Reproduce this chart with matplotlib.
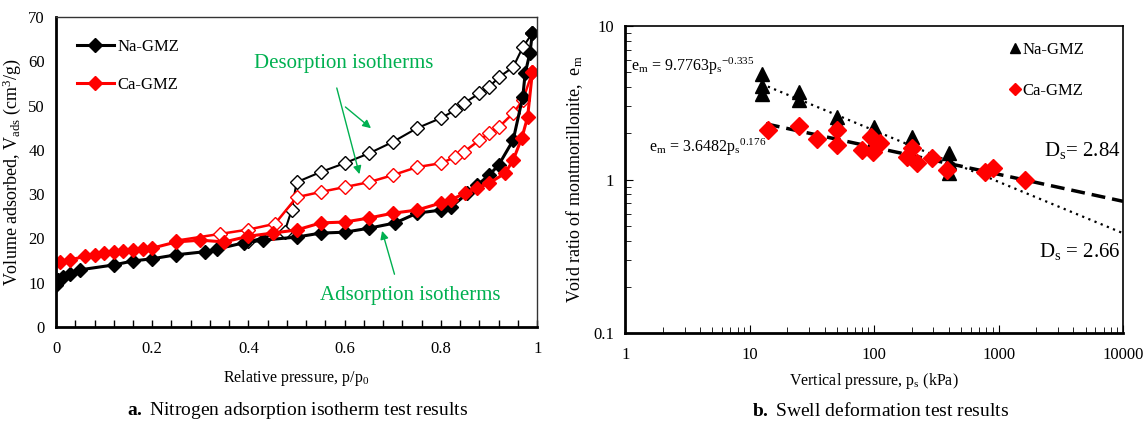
import matplotlib
matplotlib.use('Agg')
import matplotlib.pyplot as plt

plt.rcParams['font.family'] = ['Liberation Serif', 'DejaVu Serif']
plt.rcParams['mathtext.fontset'] = 'custom'
plt.rcParams['mathtext.rm'] = 'Liberation Serif'
plt.rcParams['mathtext.it'] = 'Liberation Serif:italic'
plt.rcParams['mathtext.bf'] = 'Liberation Serif:bold'

# ---- a. 질소 흡착 등온선 데이터
na_ads_x = [0.0, 0.005, 0.015, 0.03, 0.05, 0.12, 0.16, 0.20, 0.25, 0.31, 0.335, 0.39, 0.43,
            0.50, 0.55, 0.60, 0.65, 0.705, 0.75, 0.80, 0.82, 0.855, 0.875, 0.90, 0.92,
            0.95, 0.97, 0.975, 0.985, 0.99]
na_ads_y = [9.5, 10.6, 11.3, 12.0, 12.9, 14.0, 14.9, 15.4, 16.3, 17.0, 17.6, 19.0, 19.6,
            20.3, 21.2, 21.4, 22.3, 23.5, 25.7, 26.4, 27.0, 30.2, 32.0, 34.3, 36.6,
            42.2, 52.0, 57.3, 62.0, 66.4]
na_des_x = [0.99, 0.97, 0.95, 0.92, 0.90, 0.88, 0.847, 0.83, 0.80, 0.75, 0.70, 0.65,
            0.60, 0.55, 0.50, 0.49, 0.475, 0.40]
na_des_y = [66.4, 63.2, 58.7, 56.4, 54.2, 52.8, 50.5, 49.0, 47.2, 44.9, 41.8, 39.2,
            37.0, 35.0, 32.7, 26.5, 21.5, 19.3]
ca_ads_x = [0.008, 0.03, 0.06, 0.08, 0.10, 0.12, 0.14, 0.16, 0.18, 0.20, 0.25, 0.30,
            0.35, 0.40, 0.45, 0.50, 0.55, 0.60, 0.65, 0.70, 0.75, 0.80, 0.82, 0.85,
            0.875, 0.90, 0.933, 0.95, 0.968, 0.98, 0.99]
ca_ads_y = [14.7, 15.1, 16.0, 16.2, 16.7, 16.9, 17.2, 17.4, 17.6, 17.8, 19.2, 19.6,
            19.2, 20.5, 21.2, 21.9, 23.5, 23.7, 24.6, 25.7, 26.4, 28.0, 28.7, 30.2,
            31.4, 32.5, 34.7, 37.7, 42.7, 47.4, 57.6]
ca_des_x = [0.99, 0.97, 0.95, 0.92, 0.90, 0.88, 0.847, 0.83, 0.80, 0.75, 0.70, 0.65,
            0.60, 0.55, 0.50, 0.455, 0.40, 0.34, 0.25]
ca_des_y = [57.6, 51.2, 48.3, 45.1, 43.8, 42.2, 39.5, 38.4, 37.0, 36.1, 34.3, 32.7,
            31.6, 30.5, 29.3, 23.3, 22.0, 21.0, 19.5]

# ---- b. 팽윤 변형 데이터
na_p = [12.5, 12.5, 12.5, 25, 25, 50, 50, 100, 200, 400, 400, 400]
na_e = [4.9, 4.1, 3.6, 3.7, 3.3, 2.55, 2.35, 2.2, 1.9, 1.5, 1.3, 1.1]
ca_p = [14, 25, 35, 50, 50, 80, 95, 112, 98, 185, 200, 220, 290, 385, 780, 900, 1630]
ca_e = [2.1, 2.25, 1.84, 2.09, 1.68, 1.55, 1.89, 1.73, 1.51, 1.40, 1.6, 1.28, 1.38,
        1.15, 1.12, 1.19, 0.99]
na_fit_p = [12.5, 20, 50, 100, 200, 500, 1000, 2000, 5000, 10000]
ca_fit_p = [13.5, 20, 50, 100, 200, 500, 1000, 2000, 5000, 10000]
na_a, na_b = 9.7763, -0.335
ca_a, ca_b = 3.6482, -0.176

green = '#00b050'

fig = plt.figure(figsize=(11.43, 4.29), dpi=100)
ax1 = fig.add_axes([0.049, 0.238, 0.421, 0.722])
ax2 = fig.add_axes([0.547, 0.224, 0.4355, 0.715])

# ---------------- 왼쪽 그래프
ax1.plot(na_des_x, na_des_y, color='black', lw=1.5, marker='D', ms=7,
         mfc='white', mec='black', mew=1)
ax1.plot(ca_des_x, ca_des_y, color='red', lw=1.8, marker='D', ms=7,
         mfc='white', mec='red', mew=1)
ax1.plot(na_ads_x, na_ads_y, color='black', lw=2.2, marker='D', ms=7.5,
         mfc='black', mec='black', label='Na-GMZ')
ax1.plot(ca_ads_x, ca_ads_y, color='red', lw=2.2, marker='D', ms=7.5,
         mfc='red', mec='red', label='Ca-GMZ')

ax1.set_xlim(0, 1)
ax1.set_ylim(0, 70)
ax1.set_xticks([0, 0.2, 0.4, 0.6, 0.8, 1])
ax1.set_xticklabels(['0', '0.2', '0.4', '0.6', '0.8', '1'])
ax1.set_xticks([i * 0.04 for i in range(26)], minor=True)
ax1.set_yticks(range(0, 71, 10))
ax1.tick_params(axis='x', which='both', direction='in', length=5, width=1, labelsize=12, pad=10)
ax1.tick_params(axis='y', length=0, labelsize=12, pad=8)
for s in ['left', 'bottom']:
    ax1.spines[s].set_linewidth(2)
for s in ['top', 'right']:
    ax1.spines[s].set_linewidth(1)
    ax1.spines[s].set_color('#333333')
ax1.set_xlabel('Relative pressure, p/p$_0$', fontsize=11.5, labelpad=8)
ax1.set_ylabel('Volume adsorbed, V$_{\\mathrm{ads}}$ (cm$^3$/g)', fontsize=13, labelpad=4)
ax1.legend(loc='upper left', bbox_to_anchor=(0.03, 0.95), frameon=False, fontsize=12,
           handlelength=2.2, handletextpad=0.2, labelspacing=1.3, borderaxespad=0)

ax1.text(0.597, 59.6, 'Desorption isotherms', color=green, fontsize=15, ha='center', va='center')
ax1.annotate('', xy=(0.659, 44.5), xytext=(0.597, 50.1),
             arrowprops=dict(arrowstyle='-|>', color=green, lw=1, mutation_scale=12))
ax1.annotate('', xy=(0.632, 33.9), xytext=(0.582, 54.6),
             arrowprops=dict(arrowstyle='-|>', color=green, lw=1, mutation_scale=12))
ax1.text(0.736, 7.0, 'Adsorption isotherms', color=green, fontsize=15, ha='center', va='center')
ax1.annotate('', xy=(0.676, 22.3), xytext=(0.705, 11.3),
             arrowprops=dict(arrowstyle='-|>', color=green, lw=1, mutation_scale=12))

# ---------------- 오른쪽 그래프
na_fit = [na_a * p ** na_b for p in na_fit_p]
ca_fit = [ca_a * p ** ca_b for p in ca_fit_p]
ax2.plot(na_fit_p, na_fit, color='black', lw=1.6, linestyle=(0, (1, 2)))
ax2.plot(ca_fit_p, ca_fit, color='black', lw=2.5, linestyle=(0, (4, 2)))
ax2.plot(na_p, na_e, linestyle='none', marker='^', ms=10, color='black', label='Na-GMZ')
ax2.plot(ca_p, ca_e, linestyle='none', marker='D', ms=9, color='red', label='Ca-GMZ')

ax2.set_xscale('log')
ax2.set_yscale('log')
ax2.set_xlim(1, 10000)
ax2.set_ylim(0.1, 10)
ax2.set_xticks([1, 10, 100, 1000, 10000])
ax2.set_xticklabels(['1', '10', '100', '1000', '10000'])
ax2.set_yticks([0.1, 1, 10])
ax2.set_yticklabels(['0.1', '1', '10'])
ax2.tick_params(which='both', direction='in', labelsize=12)
ax2.tick_params(axis='x', which='major', length=6, pad=10)
ax2.tick_params(axis='x', which='minor', length=4)
ax2.tick_params(axis='y', which='major', length=6, pad=8)
ax2.tick_params(axis='y', which='minor', length=4)
for s in ['left', 'bottom']:
    ax2.spines[s].set_linewidth(2)
for s in ['top', 'right']:
    ax2.spines[s].set_linewidth(1.2)
ax2.set_xlabel('Vertical pressure, p$_\\mathrm{s}$ (kPa)', fontsize=11.5, labelpad=6)
ax2.set_ylabel('Void ratio of montmorillonite,  e$_\\mathrm{m}$', fontsize=13, labelpad=6)
ax2.legend(loc='upper right', bbox_to_anchor=(0.935, 0.97), frameon=False, fontsize=12,
           handlelength=0.6, handletextpad=0.15, labelspacing=1.5, borderaxespad=0,
           markerscale=0.7)

ax2.text(1.12, 5.5, 'e$_\\mathrm{m}$ = 9.7763p$_\\mathrm{s}$$^{-0.335}$', fontsize=11.5, va='center')
ax2.text(1.55, 1.62, 'e$_\\mathrm{m}$ = 3.6482p$_\\mathrm{s}$$^{0.176}$', fontsize=11.5, va='center')
ax2.text(9600, 1.55, 'D$_\\mathrm{s}$= 2.84', fontsize=15, ha='right', va='center')
ax2.text(9600, 0.34, 'D$_\\mathrm{s}$ = 2.66', fontsize=15, ha='right', va='center')

fig.text(0.26, 0.042, r'$\mathbf{a.}$ Nitrogen adsorption isotherm test results',
         fontsize=14, ha='center', va='center')
fig.text(0.77, 0.042, r'$\mathbf{b.}$ Swell deformation test results',
         fontsize=14, ha='center', va='center')

fig.savefig('out.png', dpi=100)
